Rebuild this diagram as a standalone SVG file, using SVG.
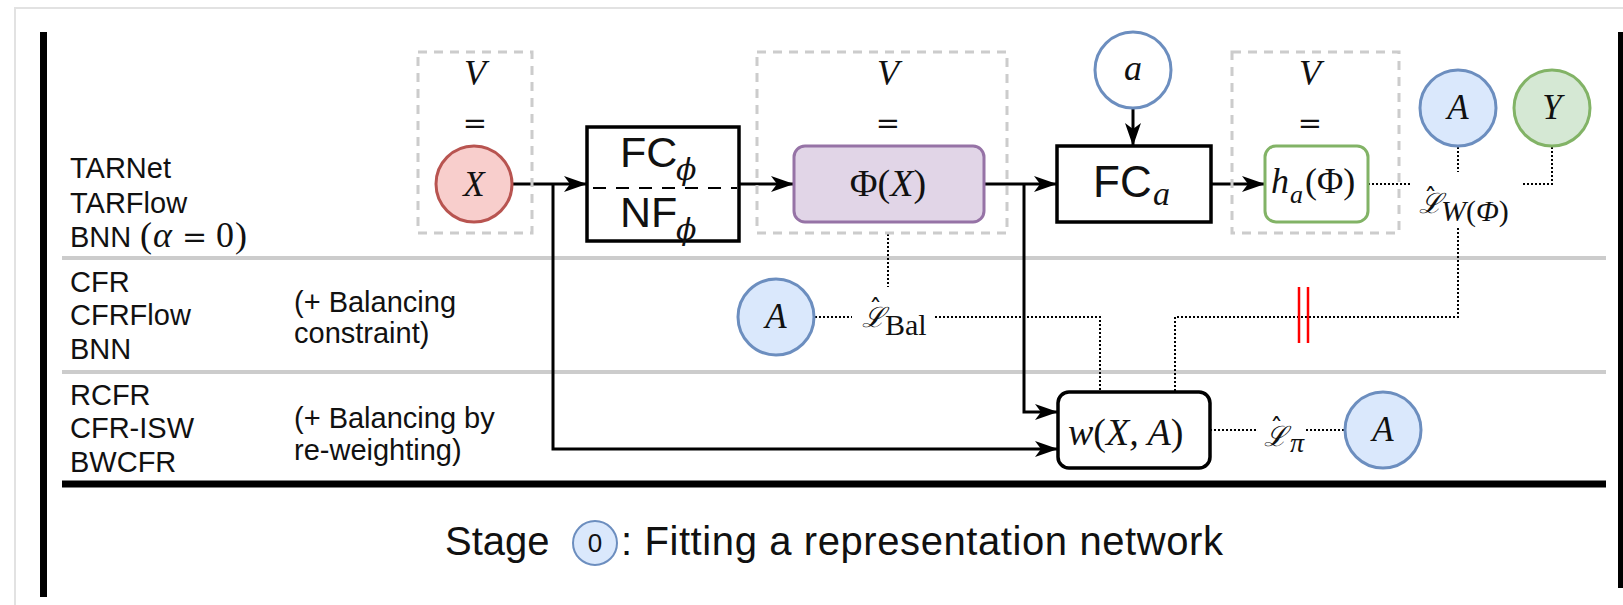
<svg xmlns="http://www.w3.org/2000/svg" width="1623" height="605" viewBox="0 0 1623 605">
<defs>
<style>
.lbl{font-family:"Liberation Sans",Arial,sans-serif;font-size:29px;fill:#111}
.sans{font-family:"Liberation Sans",Arial,sans-serif;fill:#111}
.m{font-family:"Liberation Serif","Times New Roman",serif;font-style:italic;fill:#111}
.mu{font-family:"Liberation Serif","Times New Roman",serif;font-style:normal;fill:#111}
.eq{font-family:"DejaVu Serif","Liberation Serif",serif;font-size:29px;fill:#111}
.cal{font-family:"DejaVu Serif","Liberation Serif",serif;font-style:italic;fill:#111}
.hat{font-family:"DejaVu Sans",sans-serif;font-style:normal;font-size:26px}
.phi{font-family:"DejaVu Serif","Liberation Serif",serif;font-style:italic;fill:#111}
.vbox{fill:none;stroke:#cccccc;stroke-width:3;stroke-dasharray:9 7}
.sol{fill:none;stroke:#000;stroke-width:3}
.dot{fill:none;stroke:#000;stroke-width:2;stroke-dasharray:2 2}
.blue{fill:#dae8fc;stroke:#6c8ebf;stroke-width:3}
.sep{stroke:#cccccc;stroke-width:4}
</style>
<marker id="ah" markerUnits="userSpaceOnUse" markerWidth="26" markerHeight="17" refX="23" refY="8.5" orient="auto">
<path d="M0,0.5 L23,8.5 L0,16.5 L6,8.5 Z" fill="#000"/>
</marker>
</defs>

<rect x="15" y="8" width="1640" height="640" fill="#fff" stroke="#e2e2e2" stroke-width="2"/>

<g id="frame">
<line x1="43.5" y1="32" x2="43.5" y2="597" stroke="#000" stroke-width="7"/>
<line x1="1621.5" y1="32" x2="1621.5" y2="588" stroke="#000" stroke-width="7"/>
<line class="sep" x1="62" y1="258" x2="1606" y2="258"/>
<line class="sep" x1="62" y1="372" x2="1606" y2="372"/>
<line x1="62" y1="484" x2="1606" y2="484" stroke="#000" stroke-width="7"/>
</g>

<g id="row-labels">
<text class="lbl" x="70" y="178">TARNet</text>
<text class="lbl" x="70" y="213">TARFlow</text>
<text class="lbl" x="70" y="247">BNN <tspan font-family="Liberation Serif, serif" font-size="36" x="140">(</tspan><tspan font-family="Liberation Serif, serif" font-style="italic" font-size="36" x="153">α</tspan><tspan font-family="DejaVu Serif, serif" font-size="30" x="182">=</tspan><tspan font-family="Liberation Serif, serif" font-size="36" x="216">0</tspan><tspan font-family="Liberation Serif, serif" font-size="36" x="235">)</tspan></text>
<text class="lbl" x="70" y="292">CFR</text>
<text class="lbl" x="70" y="325">CFRFlow</text>
<text class="lbl" x="70" y="359">BNN</text>
<text class="lbl" x="294" y="312">(+ Balancing</text>
<text class="lbl" x="294" y="343">constraint)</text>
<text class="lbl" x="70" y="405">RCFR</text>
<text class="lbl" x="70" y="438">CFR-ISW</text>
<text class="lbl" x="70" y="472">BWCFR</text>
<text class="lbl" x="294" y="428">(+ Balancing by</text>
<text class="lbl" x="294" y="460">re-weighting)</text>
</g>

<g id="connectors">
<path class="sol" d="M512,184 L587,184" marker-end="url(#ah)"/>
<path class="sol" d="M553,184 L553,449 L1058,449" marker-end="url(#ah)"/>
<path class="sol" d="M739,184 L794,184" marker-end="url(#ah)"/>
<path class="sol" d="M984,184 L1057,184" marker-end="url(#ah)"/>
<path class="sol" d="M1024,184 L1024,412 L1058,412" marker-end="url(#ah)"/>
<path class="sol" d="M1133,108 L1133,146" marker-end="url(#ah)"/>
<path class="sol" d="M1211,184 L1265,184" marker-end="url(#ah)"/>
<path class="dot" d="M1368,184 L1411,184"/>
<path class="dot" d="M1458,147 L1458,172"/>
<path class="dot" d="M1552,147 L1552,184 L1521,184"/>
<path class="dot" d="M1458,228 L1458,317 L1175,317 L1175,392"/>
<path class="dot" d="M888,234 L888,287"/>
<path class="dot" d="M815,317 L852,317"/>
<path class="dot" d="M935,317 L1100,317 L1100,392"/>
<path class="dot" d="M1210,430 L1256,430"/>
<path class="dot" d="M1306,430 L1345,430"/>
<line x1="1299" y1="287" x2="1299" y2="343" stroke="#ff0000" stroke-width="2.5"/>
<line x1="1308" y1="287" x2="1308" y2="343" stroke="#ff0000" stroke-width="2.5"/>
</g>

<g id="node-vx">
<rect class="vbox" x="418" y="52" width="114" height="181"/>
<text class="m" x="475" y="85" font-size="36" text-anchor="middle">V</text>
<text class="eq" x="475" y="133" text-anchor="middle">=</text>
<circle cx="474" cy="184" r="38" fill="#f8cecc" stroke="#b85450" stroke-width="3"/>
<text class="m" x="474" y="196" font-size="35" text-anchor="middle">X</text>
</g>

<g id="node-fc-nf">
<rect x="587" y="127" width="152" height="114" fill="#fff" stroke="#000" stroke-width="3.5"/>
<line x1="590" y1="188" x2="737" y2="188" stroke="#000" stroke-width="2" stroke-dasharray="13 10" stroke-dashoffset="-3"/>
<text class="sans" x="620" y="167" font-size="43">FC</text>
<text class="phi" x="676" y="180" font-size="30">ϕ</text>
<text class="sans" x="620" y="227" font-size="43">NF</text>
<text class="phi" x="676" y="240" font-size="30">ϕ</text>
</g>

<g id="node-vphi">
<rect class="vbox" x="757" y="52" width="250" height="181"/>
<text class="m" x="888" y="85" font-size="36" text-anchor="middle">V</text>
<text class="eq" x="888" y="133" text-anchor="middle">=</text>
<rect x="794" y="146" width="190" height="76" rx="11" fill="#e1d5e7" stroke="#9673a6" stroke-width="3"/>
<text class="mu" x="888" y="196" font-size="38" text-anchor="middle">Φ(<tspan font-style="italic">X</tspan>)</text>
</g>

<g id="node-a">
<circle cx="1133" cy="70" r="38" fill="#fff" stroke="#6c8ebf" stroke-width="3"/>
<text class="m" x="1133" y="80" font-size="36" text-anchor="middle">a</text>
</g>

<g id="node-fca">
<rect x="1057" y="146" width="154" height="76" fill="#fff" stroke="#000" stroke-width="3.5"/>
<text class="sans" x="1093" y="197" font-size="44">FC</text>
<text class="m" x="1153" y="205" font-size="34">a</text>
</g>

<g id="node-vh">
<rect class="vbox" x="1232" y="52" width="167" height="181"/>
<text class="m" x="1310" y="85" font-size="36" text-anchor="middle">V</text>
<text class="eq" x="1310" y="133" text-anchor="middle">=</text>
<rect x="1265" y="146" width="103" height="76" rx="11" fill="#fff" stroke="#82b366" stroke-width="3"/>
<text class="m" x="1271" y="193" font-size="36">h</text>
<text class="m" x="1290" y="203" font-size="26">a</text>
<text class="mu" x="1305" y="193" font-size="36">(Φ)</text>
</g>

<g id="node-A-top">
<circle cx="1458" cy="108" r="38" class="blue"/>
<text class="m" x="1458" y="119" font-size="35" text-anchor="middle">A</text>
</g>

<g id="node-Y">
<circle cx="1552" cy="108" r="38" fill="#d5e8d4" stroke="#82b366" stroke-width="3"/>
<text class="m" x="1552" y="119" font-size="35" text-anchor="middle">Y</text>
</g>

<g id="loss-w">
<text class="cal" x="1419" y="213" font-size="28">ℒ<tspan class="hat" x="1424" y="208">ˆ</tspan></text>
<text class="mu" x="1441" y="221" font-size="30"><tspan font-style="italic">W</tspan>(<tspan font-style="italic">Φ</tspan>)</text>
</g>

<g id="node-A-mid">
<circle cx="776" cy="317" r="38" class="blue"/>
<text class="m" x="776" y="328" font-size="35" text-anchor="middle">A</text>
</g>

<g id="loss-bal">
<text class="cal" x="862" y="327" font-size="28">ℒ<tspan class="hat" x="869" y="319">ˆ</tspan></text>
<text class="mu" x="885" y="335" font-size="30">Bal</text>
</g>

<g id="node-w">
<rect x="1058" y="392" width="152" height="76" rx="11" fill="#fff" stroke="#000" stroke-width="3.5"/>
<text class="m" x="1068" y="445" font-size="38">w<tspan font-style="normal">(</tspan>X, A<tspan font-style="normal">)</tspan></text>
</g>

<g id="loss-pi">
<text class="cal" x="1264" y="446" font-size="28">ℒ<tspan class="hat" x="1270" y="438">ˆ</tspan></text>
<text class="m" x="1290" y="452" font-size="28">π</text>
</g>

<g id="node-A-bot">
<circle cx="1383" cy="430" r="38" class="blue"/>
<text class="m" x="1383" y="441" font-size="35" text-anchor="middle">A</text>
</g>

<g id="caption">
<text class="sans" x="445" y="555" font-size="40">Stage</text>
<circle cx="595" cy="543" r="22" fill="#dae8fc" stroke="#6c8ebf" stroke-width="2"/>
<text class="sans" x="595" y="552" font-size="26" text-anchor="middle">0</text>
<text class="sans" x="621" y="555" font-size="40" textLength="602">: Fitting a representation network</text>
</g>
</svg>
